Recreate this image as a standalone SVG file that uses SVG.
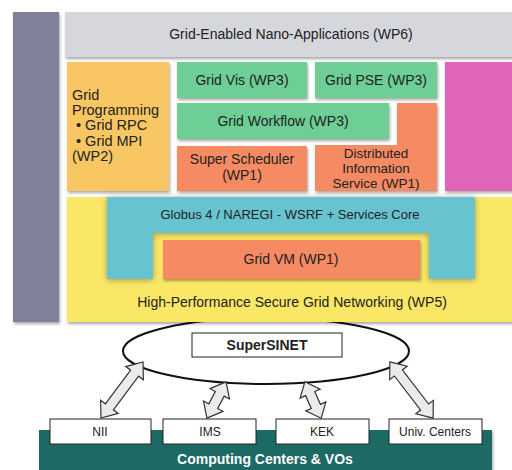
<svg xmlns="http://www.w3.org/2000/svg" width="512" height="470" viewBox="0 0 512 470">
<style>
text{font-family:"Liberation Sans",Arial,sans-serif;font-size:14px;fill:#222;text-anchor:middle}
.l{text-anchor:start;font-size:14.5px}
.b{font-weight:bold}
.w{fill:#fff}
.s{font-size:12px}
.box{fill:#fff;stroke:#222;stroke-width:1}
.arr{fill:#ebebeb;stroke:#333;stroke-width:1.2;stroke-linejoin:miter}
</style>
<defs>
<filter id="sh" x="-10%" y="-10%" width="120%" height="130%">
<feDropShadow dx="1" dy="2" stdDeviation="1.5" flood-color="#000" flood-opacity="0.35"/>
</filter>
<filter id="sh2" x="-10%" y="-20%" width="120%" height="140%">
<feDropShadow dx="0" dy="1" stdDeviation="3" flood-color="#000" flood-opacity="0.35"/>
</filter>
</defs>
<rect width="512" height="470" fill="#fff"/>

<g id="sidebar"><rect x="13" y="12" width="46" height="310" fill="#80809a" filter="url(#sh)"/></g>

<g id="supersinet">
<ellipse cx="266" cy="351" rx="143" ry="33" fill="#fff" stroke="#111" stroke-width="2"/>
<rect class="box" x="192" y="333" width="150" height="24"/>
<text class="b" x="267" y="350">SuperSINET</text>
</g>

<g id="wp5"><rect x="67" y="197" width="450" height="125" fill="#fbe766" filter="url(#sh)"/>
<text x="292" y="307">High-Performance Secure Grid Networking (WP5)</text></g>

<g id="globus">
<path d="M107 197H475V279H429V233H153V279H107Z" fill="#67c3d0" filter="url(#sh2)"/>
<text x="290" y="219" style="font-size:13px">Globus 4 / NAREGI - WSRF + Services Core</text>
</g>
<g id="gridvm"><rect x="163" y="240" width="257" height="39" fill="#f58a64" filter="url(#sh)"/>
<text x="291" y="264">Grid VM (WP1)</text></g>

<g id="wp6"><rect x="65" y="12" width="452" height="45" fill="#d6d6dd" filter="url(#sh)"/>
<text x="291" y="39">Grid-Enabled Nano-Applications (WP6)</text></g>

<g id="gridprog"><rect x="67" y="62" width="102" height="129" fill="#f8c664" filter="url(#sh)"/>
<text class="l" x="72" y="100">Grid</text>
<text class="l" x="72" y="115">Programming</text>
<text class="l" x="76" y="130">• Grid RPC</text>
<text class="l" x="76" y="146">• Grid MPI</text>
<text class="l" x="72" y="161">(WP2)</text></g>

<g id="gridvis"><rect x="177" y="62" width="130" height="36" fill="#6dcf96" filter="url(#sh)"/>
<text x="242" y="85">Grid Vis (WP3)</text></g>
<g id="gridpse"><rect x="315" y="62" width="122" height="36" fill="#6dcf96" filter="url(#sh)"/>
<text x="376" y="85">Grid PSE (WP3)</text></g>
<g id="pink"><rect x="445" y="62" width="72" height="129" fill="#e065b8" filter="url(#sh)"/></g>

<g id="dis"><path d="M397 103H437V191H315V145H397Z" fill="#f58a64" filter="url(#sh)"/>
<text x="376" y="158" style="font-size:13.5px">Distributed</text>
<text x="376" y="173" style="font-size:13.5px">Information</text>
<text x="376" y="188" style="font-size:13.5px">Service (WP1)</text></g>
<g id="workflow"><rect x="177" y="103" width="212" height="36" fill="#6dcf96" filter="url(#sh)"/>
<text x="283" y="126">Grid Workflow (WP3)</text></g>
<g id="superscheduler"><rect x="177" y="146" width="130" height="45" fill="#f58a64" filter="url(#sh)"/>
<text x="242" y="164">Super Scheduler</text>
<text x="242" y="180">(WP1)</text></g>

<g id="computing"><rect x="39" y="430" width="453" height="45" fill="#1d6b64" filter="url(#sh)"/>
<text class="b w" x="265" y="464">Computing Centers &amp; VOs</text></g>
<g id="nii"><rect class="box" x="50" y="419" width="101" height="25"/><text class="s" x="100" y="436">NII</text></g>
<g id="ims"><rect class="box" x="163" y="419" width="93" height="25"/><text class="s" x="210" y="436">IMS</text></g>
<g id="kek"><rect class="box" x="276" y="419" width="93" height="25"/><text class="s" x="322" y="436">KEK</text></g>
<g id="univ"><rect class="box" x="389" y="419" width="93" height="25"/><text class="s" x="435" y="436">Univ. Centers</text></g>

<g id="connectors">
<polygon class="arr" transform="translate(122,390) rotate(126.9)" points="-35,0 -21,-11 -21,-5 21,-5 21,-11 35,0 21,11 21,5 -21,5 -21,11"/>
<polygon class="arr" transform="translate(216.5,400) rotate(117.8)" points="-20.5,0 -7,-11 -7,-5 7,-5 7,-11 20.5,0 7,11 7,5 -7,5 -7,11"/>
<polygon class="arr" transform="translate(313,400) rotate(66)" points="-20,0 -7,-11 -7,-5 7,-5 7,-11 20,0 7,11 7,5 -7,5 -7,11"/>
<polygon class="arr" transform="translate(411.5,390) rotate(52.5)" points="-35.5,0 -21.5,-11 -21.5,-5 21.5,-5 21.5,-11 35.5,0 21.5,11 21.5,5 -21.5,5 -21.5,11"/>
</g>
</svg>
